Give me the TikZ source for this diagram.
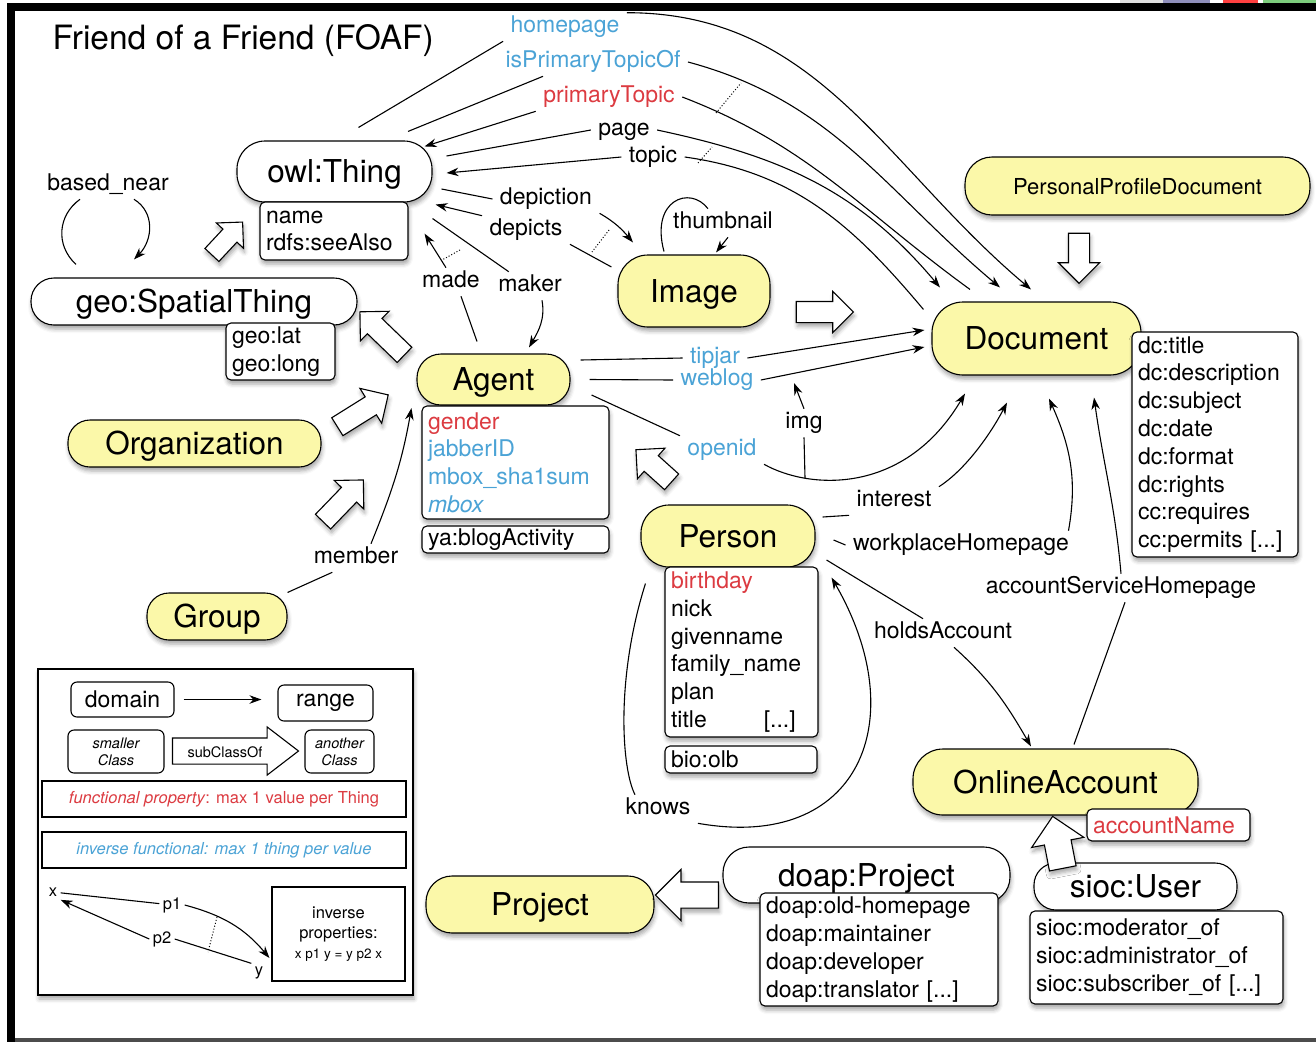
\documentclass[tikz,border=0pt]{standalone}
\usepackage{fontspec}
\setmainfont{TeX Gyre Heros}
\usetikzlibrary{shapes.arrows,shadows.blur,arrows.meta}

\definecolor{foafyellow}{HTML}{FBF8A9}
\definecolor{funcred}{HTML}{DC3B41}
\definecolor{invblue}{HTML}{4BA3D6}

\newcommand\fTitle{\fontsize{33.5}{38}\selectfont}
\newcommand\fClass{\fontsize{31.5}{36}\selectfont}
\newcommand\fPPD{\fontsize{22}{26}\selectfont}
\newcommand\fProp{\fontsize{23}{27.8}\selectfont}
\newcommand\fNote{\fontsize{16.5}{20}\selectfont}
\newcommand\fTiny{\fontsize{14.5}{17}\selectfont}
\newcommand\fSmall{\fontsize{13.5}{16}\selectfont}

\tikzset{
  dropshade/.style={blur shadow={shadow xshift=1pt, shadow yshift=-4pt,
      shadow blur radius=4pt, shadow opacity=35}},
  cls/.style={draw, fill=foafyellow, rounded corners=#1, font=\fClass,
      text height=22.5pt, text depth=0pt, inner sep=0pt, dropshade},
  cls/.default=22pt,
  ext/.style={cls=#1, fill=white},
  ext/.default=22pt,
  props/.style={draw, fill=white, rounded corners=5pt, font=\fProp,
      align=left, text width=#1, inner xsep=6pt, inner ysep=2pt, dropshade},
  lbl/.style={font=\fProp, text height=16.5pt, text depth=5pt,
      inner xsep=7pt, inner ysep=3pt},
  isa/.style={single arrow, draw, fill=white, minimum height=#1,
      inner xsep=0pt, inner ysep=10pt, single arrow head extend=10pt, dropshade},
  invmark/.style={dotted, line width=1pt},
  legbox/.style={draw, rounded corners=6pt, inner sep=0pt},
  leglbl/.style={font=\fNote, inner sep=3pt},
}

\begin{document}
\begin{tikzpicture}[x=1pt, y=-1pt, line width=1.1pt,
    >={Stealth[length=12pt,width=8.5pt]}]
\useasboundingbox (0,0) rectangle (1316,1042);
% screen frame
\fill (7,3) rectangle (1316,11);
\fill (7,3) rectangle (15,1042);
\fill[black!70] (15,1038) rectangle (1316,1042);
\fill[black!12] (1120,0) rectangle (1163,3);
\fill[blue!25!gray!70] (1163,0) rectangle (1210,3);
\fill[red!75] (1223,0) rectangle (1258,3);
\fill[green!45!gray!70] (1263,0) rectangle (1316,3);

\node[font=\fTitle, anchor=west, text height=24pt, text depth=0pt, inner sep=0pt] (title) at (52,37) {Friend of a Friend (FOAF)};

% classes and their properties
\node[ext=28pt, minimum width=195pt, minimum height=61pt] (thing) at (334.5,171.5) {owl:Thing};
\node[props=136pt, minimum height=58pt] (thingprops) at (334,231) {name\\rdfs:seeAlso};
\node[ext=23pt, minimum width=326pt, minimum height=47pt] (spatial) at (194,301.5) {geo:SpatialThing};
\node[props=97pt, minimum height=57pt] (spatialprops) at (280.5,351.5) {geo:lat\\geo:long};
\node[cls=24pt, minimum width=153pt, minimum height=51pt] (agent) at (493.5,379.5) {Agent};
\node[props=175pt, minimum height=113pt] (agentprops) at (515.5,462.5)
  {\textcolor{funcred}{gender}\\\textcolor{invblue}{jabberID}\\
   \textcolor{invblue}{mbox\_sha1sum}\\\textcolor{invblue}{\itshape mbox}};
\node[props=175pt, minimum height=27pt] (blogprops) at (515.5,539.5) {ya:blogActivity};
\node[cls, minimum width=253pt, minimum height=47pt] (org) at (194.5,443.5) {Organization};
\node[cls, minimum width=140pt, minimum height=47pt] (group) at (217,616.5) {Group};
\node[cls=30pt, minimum width=152pt, minimum height=72pt] (image) at (694,291) {Image};
\node[cls=27pt, font=\fPPD, text height=16pt, minimum width=345pt, minimum height=58pt] (ppd) at (1137.5,186) {PersonalProfileDocument};
\node[cls=31pt, minimum width=209pt, minimum height=73pt] (doc) at (1036.5,338.5) {Document};
\node[props=154pt, minimum height=225pt] (docprops) at (1215,444.5)
  {dc:title\\dc:description\\dc:subject\\dc:date\\dc:format\\dc:rights\\cc:requires\\cc:permits [...]};
\node[cls=28pt, minimum width=174pt, minimum height=62pt] (person) at (728,536) {Person};
\node[props=141pt, minimum height=170pt] (personprops) at (741.5,652)
  {\textcolor{funcred}{birthday}\\nick\\givenname\\family\_name\\plan\\title\hspace{57pt}[...]};
\node[props=140pt, minimum height=27pt] (olbprops) at (741,759.5) {bio:olb};
\node[cls=30pt, minimum width=285pt, minimum height=66pt] (account) at (1055.5,782) {OnlineAccount};
\node[props=151pt, minimum height=32pt, text=funcred] (accountprops) at (1168.5,825) {accountName};
\node[ext, minimum width=203pt, minimum height=47pt] (siocuser) at (1135.5,886.5) {sioc:User};
\node[props=241pt, minimum height=93pt] (siocprops) at (1156.5,957.5)
  {sioc:moderator\_of\\sioc:administrator\_of\\sioc:subscriber\_of [...]};
\node[ext=26pt, minimum width=287pt, minimum height=56pt] (doapproj) at (866.5,875) {doap:Project};
\node[props=226pt, minimum height=113pt] (doapprops) at (879,949.5)
  {doap:old-homepage\\doap:maintainer\\doap:developer\\doap:translator [...]};
\node[cls=26pt, minimum width=228pt, minimum height=57pt] (project) at (540,904.5) {Project};

% subclass arrows
\node[isa=45pt, inner ysep=9pt, single arrow head extend=9pt, rotate=47] (spatialisa) at (224,242) {};
\node[isa=62pt, rotate=136] (agentisa) at (386,337) {};
\node[isa=60pt, rotate=32] (orgisa) at (358.3,413.6) {};
\node[isa=58pt, rotate=46] (groupisa) at (339.5,504.6) {};
\node[isa=57pt, rotate=0] (imageisa) at (819.5,312) {};
\node[isa=50pt, rotate=-90] (ppdisa) at (1079,253) {};
\node[isa=48pt, rotate=138] (personisa) at (657.7,469.3) {};
\node[isa=53pt, inner ysep=13pt, single arrow head extend=13pt, rotate=101] (siocisa) at (1059,849) {};
\node[isa=63pt, inner ysep=12.5pt, single arrow head extend=12.5pt, rotate=180] (doapisa) at (693.5,895) {};

% property labels
\node[lbl, text=invblue] (homepage) at (565,27) {homepage};
\node[lbl, text=invblue] (isprim) at (593,62) {isPrimaryTopicOf};
\node[lbl, text=funcred] (primtopic) at (609,97) {primaryTopic};
\node[lbl] (page) at (624,130) {page};
\node[lbl] (topic) at (653,157) {topic};
\node[lbl] (depiction) at (546,199) {depiction};
\node[lbl] (depicts) at (526,230) {depicts};
\node[lbl] (made) at (451,282) {made};
\node[lbl] (maker) at (530,286) {maker};
\node[lbl] (thumb) at (723,223) {thumbnail};
\node[lbl] (basednear) at (108,185) {based\_near};
\node[lbl, text=invblue] (tipjar) at (715,358) {tipjar};
\node[lbl, text=invblue] (weblog) at (717,380) {weblog};
\node[lbl] (imglbl) at (804,423) {img};
\node[lbl, text=invblue] (openid) at (722,450) {openid};
\node[lbl] (interest) at (894,501) {interest};
\node[lbl] (workplace) at (961,545) {workplaceHomepage};
\node[lbl] (accsvc) at (1121,588) {accountServiceHomepage};
\node[lbl] (holds) at (943,633) {holdsAccount};
\node[lbl] (member) at (356,558) {member};
\node[lbl] (knows) at (658,809) {knows};
\coordinate (imgfoot) at (805,478);
\coordinate (imgtip) at (794,383);

% Thing <-> Document
\draw ([xshift=24pt,yshift=13pt]thing.north) -- (homepage.south west);
\draw[->] (homepage.north east) to[out=0,in=140] ([xshift=-5.5pt,yshift=12pt]doc.north);
\draw ([xshift=73.5pt,yshift=9pt]thing.north) -- ([xshift=45pt]isprim.south west);
\draw[->] (isprim.east) to[out=-15,in=140] ([xshift=-36.5pt,yshift=14pt]doc.north);
\draw ([xshift=-66.5pt,yshift=12pt]doc.north) to[out=144,in=-21] (primtopic.east);
\draw[->] (primtopic.south west) -- ([xshift=-8pt,yshift=-6pt]thing.north east);
\draw ([xshift=14pt,yshift=15.5pt]thing.east) -- (page.west);
\draw[->] (page.east) to[out=-12,in=130] ([xshift=-96.5pt,yshift=14pt]doc.north);
\draw ([xshift=-8pt,yshift=-8pt]doc.north west) to[out=130,in=-8] (topic.east);
\draw[->] (topic.west) -- ([xshift=14pt,yshift=-1.5pt]thing.east);
\draw[invmark] (716,113) -- (741,83);
\draw[invmark] (698,163) -- (712,147);

% Thing <-> Image
\draw ([xshift=9pt,yshift=-17.5pt]thing.east) -- (depiction.west);
\draw[->] (depiction.south east) to[out=-30,in=130] ([xshift=-61pt,yshift=12pt]image.north);
\draw ([xshift=-6pt,yshift=24pt]image.west) -- (depicts.south east);
\draw[->] (depicts.north west) -- ([xshift=3pt,yshift=-2pt]thing.south east);
\draw[invmark] (609,230) -- (592,252);
\draw ([xshift=-30pt,yshift=3pt]image.north) .. controls (650,200) and (690,185) .. ([xshift=-15pt]thumb.north);
\draw[->] ([xshift=5pt]thumb.south) -- ([xshift=22pt,yshift=2pt]image.north);

% Thing <-> Agent
\draw ([xshift=-16.5pt,yshift=12pt]agent.north) -- ([xshift=10pt]made.south);
\draw[->] ([xshift=-5pt]made.north) -- ([xshift=-8pt,yshift=-31pt]thing.south east);
\draw ([yshift=-16pt]thing.south east) -- ([xshift=18pt]maker.north west);
\draw[->] ([xshift=12pt]maker.south) to[out=-80,in=60] ([xshift=35.5pt,yshift=6pt]agent.north);
\draw[invmark] (460,250) -- (442,260);

% SpatialThing loop
\draw ([xshift=-118pt,yshift=13pt]spatial.north) .. controls (55,245) and (58,215) .. ([xshift=-28pt]basednear.south);
\draw[->] ([xshift=26pt]basednear.south) .. controls (155,212) and (153,240) .. ([xshift=-60pt,yshift=18pt]spatial.north);

% Agent -> Document
\draw ([xshift=10pt,yshift=19.5pt]agent.east) -- (tipjar.west);
\draw[->] (tipjar.east) -- ([xshift=-7pt,yshift=8.5pt]doc.west);
\draw ([xshift=19pt]agent.east) -- (weblog.west);
\draw[->] (weblog.east) -- ([xshift=-7pt,yshift=-8.5pt]doc.west);
\draw ([xshift=21pt,yshift=-15.5pt]agent.east) -- (openid.north west);
\draw[->] (openid.south east) .. controls (810,490) and (905,495) .. ([xshift=-71.5pt,yshift=-18pt]doc.south);
\draw (imgfoot) -- (imglbl.south);
\draw[->] (imglbl.north) -- (imgtip);

% Person
\draw ([xshift=7pt,yshift=19pt]person.east) -- (interest.south west);
\draw[->] (interest.north east) .. controls (965,470) and (990,435) .. ([xshift=-29.5pt,yshift=-27pt]doc.south);
\draw ([xshift=18pt,yshift=-4pt]person.east) -- (workplace.west);
\draw[->] ([xshift=-8pt]workplace.north east) to[out=80,in=-66] ([xshift=12.5pt,yshift=-23pt]doc.south);
\draw ([xshift=18.5pt,yshift=4pt]account.north) -- ([xshift=4pt]accsvc.south);
\draw[->] (accsvc.north) to[out=95,in=-82] ([xshift=57.5pt,yshift=-22pt]doc.south);
\draw ([xshift=11pt,yshift=-24pt]person.east) -- ([xshift=-20pt]holds.north);
\draw[->] ([xshift=11pt]holds.south) to[out=-42,in=120] ([xshift=-24.5pt,yshift=2pt]account.north);
\draw ([xshift=5pt,yshift=-16pt]person.south west) .. controls (615,680) and (622,770) .. ([xshift=17pt]knows.north west);
\draw[->] (knows.south east) to[out=-10,in=-60,looseness=1.5] ([xshift=16pt,yshift=-10pt]person.south east);

% Group -> Agent
\draw (group.north east) -- ([xshift=26pt]member.south west);
\draw[->] ([xshift=15pt]member.north) to[out=68,in=-100] ([xshift=-5pt,yshift=-28.5pt]agent.west);

% legend
\node[draw, fill=white, minimum width=375pt, minimum height=326pt, inner sep=0pt, dropshade] (legend) at (225.5,832) {};
\node[legbox, font=\fProp, minimum width=103pt, minimum height=35pt] (domain) at (122.5,699.5) {domain};
\node[legbox, font=\fProp, minimum width=95pt, minimum height=36pt] (range) at (325.5,703) {range};
\draw[->] ([xshift=9pt]domain.east) -- ([xshift=-16pt]domain.east -| range.west);
\node[legbox, font=\fTiny\itshape, align=center, minimum width=96pt, minimum height=43pt] (smaller) at (116,751.5) {smaller\\Class};
\node[legbox, font=\fTiny\itshape, align=center, minimum width=69pt, minimum height=43pt] (another) at (339.5,751.5) {another\\Class};
\node[single arrow, draw, fill=white, minimum height=126pt, inner xsep=0pt, inner ysep=12.5pt,
  single arrow head extend=11pt, single arrow tip angle=75] (subof) at (227,751) {};
\node[font=\fTiny] (subtxt) at (225,752) {subClassOf};
\node[draw, minimum width=364pt, minimum height=36pt, font=\fNote, text=funcred] (funcbox) at (224,799)
  {\textit{functional property}: max 1 value per Thing};
\node[draw, minimum width=364pt, minimum height=36pt, font=\fNote\itshape, text=invblue] (invfbox) at (224,850)
  {inverse functional: max 1 thing per value};
\node[draw, minimum width=133pt, minimum height=94pt, font=\fNote, align=center] (invbox) at (338.5,934)
  {inverse\\properties:\\{\fSmall x p1 y = y p2 x}};
\node[leglbl] (lx) at (53,892) {x};
\node[leglbl] (lp1) at (172,905) {p1};
\node[leglbl] (lp2) at (162,939) {p2};
\node[leglbl] (ly) at (259,973) {y};
\draw (lx) -- (lp1);
\draw[->] (lp1.east) to[out=-15,in=130] ([xshift=-2pt,yshift=-24pt]invbox.west);
\draw (ly.north west) -- (lp2.east);
\draw[->] (lp2.west) -- (lx.south east);
\draw[invmark] (217,917) -- (208,952);
\end{tikzpicture}
\end{document}
